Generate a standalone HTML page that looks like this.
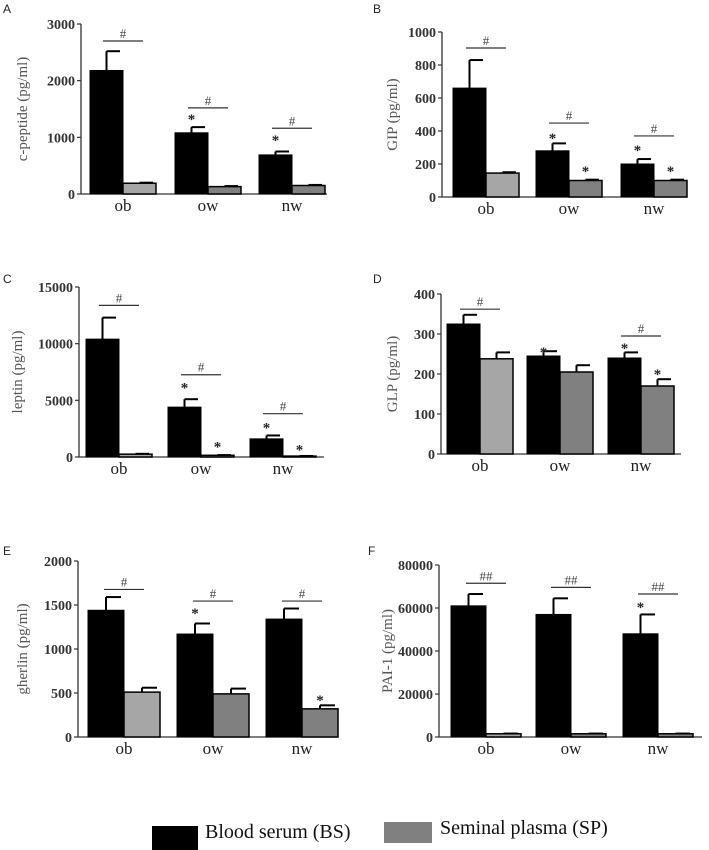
<!DOCTYPE html>
<html><head><meta charset="utf-8">
<style>
html,body{margin:0;padding:0;background:#fff;}
svg{display:block;}
.serif{font-family:"Liberation Serif","DejaVu Serif",serif;}
.lbl{font-family:"Liberation Sans",sans-serif;font-size:12px;fill:#222;}
</style></head>
<body>
<svg id="fig" width="709" height="850" viewBox="0 0 709 850" xmlns="http://www.w3.org/2000/svg">
<rect width="709" height="850" fill="#fff"/>
<g>
 <rect x="152" y="826" width="46" height="24" fill="#000"/>
 <text x="205" y="838" font-size="20" fill="#111" font-family="Liberation Serif, DejaVu Serif, serif" class="serif">Blood serum (BS)</text>
 <rect x="384" y="822" width="48" height="21" fill="#808080"/>
 <text x="440" y="834" font-size="20" fill="#111" font-family="Liberation Serif, DejaVu Serif, serif" class="serif">Seminal plasma (SP)</text>
</g>
</svg>
<script>
const categories = ["ob","ow","nw"];
// A c-peptide
const aTicks = [0,1000,2000,3000];
const aBS = [2180,1080,690]; const aBSErr = [2520,1180,750];
const aSP = [190,130,150]; const aSPErr = [200,140,160];
const aHash = [2700,1520,1160]; const aHashLbl = ["#","#","#"];
const aStarBS = [null,1360,990]; const aStarSP = [null,null,null];
// B GIP
const bTicks = [0,200,400,600,800,1000];
const bBS = [660,280,200]; const bBSErr = [830,325,230];
const bSP = [145,100,100]; const bSPErr = [150,105,105];
const bHash = [903,448,370]; const bHashLbl = ["#","#","#"];
const bStarBS = [null,370,297]; const bStarSP = [null,170,170];
// C leptin
const cTicks = [0,5000,10000,15000];
const cBS = [10400,4400,1600]; const cBSErr = [12300,5100,1900];
const cSP = [250,150,80]; const cSPErr = [280,170,90];
const cHash = [13380,7260,3820]; const cHashLbl = ["#","#","#"];
const cStarBS = [null,6290,2760]; const cStarSP = [null,1090,850];
// D GLP
const dTicks = [0,100,200,300,400];
const dBS = [325,245,240]; const dBSErr = [348,257,254];
const dSP = [238,205,170]; const dSPErr = [254,222,187];
const dHash = [362,null,295]; const dHashLbl = ["#","","#"];
const dStarBS = [null,260,270]; const dStarSP = [null,null,205];
// E ghrelin
const eTicks = [0,500,1000,1500,2000];
const eBS = [1440,1170,1340]; const eBSErr = [1590,1290,1460];
const eSP = [510,490,320]; const eSPErr = [560,550,360];
const eHash = [1677,1545,1545]; const eHashLbl = ["#","#","#"];
const eStarBS = [null,1430,null]; const eStarSP = [null,null,444];
// F PAI-1
const fTicks = [0,20000,40000,60000,80000];
const fBS = [61000,57000,48000]; const fBSErr = [66500,64500,57000];
const fSP = [1500,1500,1500]; const fSPErr = [1600,1600,1600];
const fHash = [71500,69600,66500]; const fHashLbl = ["##","##","##"];
const fStarBS = [null,null,61400]; const fStarSP = [null,null,null];

const NS="http://www.w3.org/2000/svg";
const SERIF="Liberation Serif, DejaVu Serif, serif";
const svg=document.getElementById('fig');
function mk(tag,attrs,parent){const e=document.createElementNS(NS,tag);for(const k in attrs)e.setAttribute(k,attrs[k]);(parent||svg).appendChild(e);return e;}

const panels=[
 {id:"a",letter:"A",lx:3,ly:13,title:"c-peptide (pg/ml)",tx:22,ax:81,ay0:194,ay1:24,axEnd:327,max:3000,bw:33,starts:[90,175,259],ticks:aTicks,bs:aBS,bse:aBSErr,sp:aSP,spe:aSPErr,hash:aHash,hl:aHashLbl,sb:aStarBS,ss:aStarSP,spCol:["#a6a6a6","#808080","#808080"]},
 {id:"b",letter:"B",lx:373,ly:13,title:"GIP (pg/ml)",tx:392,ax:442,ay0:197,ay1:32,axEnd:687,max:1000,bw:33,starts:[453,536,621],ticks:bTicks,bs:bBS,bse:bBSErr,sp:bSP,spe:bSPErr,hash:bHash,hl:bHashLbl,sb:bStarBS,ss:bStarSP,spCol:["#a6a6a6","#808080","#808080"]},
 {id:"c",letter:"C",lx:3,ly:283,title:"leptin (pg/ml)",tx:17,ax:79,ay0:457,ay1:287,axEnd:324,max:15000,bw:33,starts:[86,168,250],ticks:cTicks,bs:cBS,bse:cBSErr,sp:cSP,spe:cSPErr,hash:cHash,hl:cHashLbl,sb:cStarBS,ss:cStarSP,spCol:["#a6a6a6","#808080","#808080"]},
 {id:"d",letter:"D",lx:373,ly:283,title:"GLP (pg/ml)",tx:392,ax:441,ay0:454,ay1:294,axEnd:681,max:400,bw:33,starts:[447,527,608],ticks:dTicks,bs:dBS,bse:dBSErr,sp:dSP,spe:dSPErr,hash:dHash,hl:dHashLbl,sb:dStarBS,ss:dStarSP,spCol:["#a6a6a6","#808080","#808080"]},
 {id:"e",letter:"E",lx:3,ly:555,title:"gherlin (pg/ml)",tx:22,ax:78,ay0:737,ay1:561,axEnd:337,max:2000,bw:36,starts:[88,177,266],ticks:eTicks,bs:eBS,bse:eBSErr,sp:eSP,spe:eSPErr,hash:eHash,hl:eHashLbl,sb:eStarBS,ss:eStarSP,spCol:["#a6a6a6","#808080","#808080"]},
 {id:"f",letter:"F",lx:368,ly:555,title:"PAI-1 (pg/ml)",tx:387,ax:439,ay0:737,ay1:565,axEnd:702,max:80000,bw:35,starts:[451,536,623],ticks:fTicks,bs:fBS,bse:fBSErr,sp:fSP,spe:fSPErr,hash:fHash,hl:fHashLbl,sb:fStarBS,ss:fStarSP,spCol:["#a6a6a6","#808080","#808080"]}
];

panels.forEach(p=>{
 const g=mk('g',{});
 
 
 const y=v=>p.ay0-(v/p.max)*(p.ay0-p.ay1);
 const L=mk('text',{x:p.lx,y:p.ly,class:'lbl'},g);L.textContent=p.letter;
 
 
 const ya=mk('line',{x1:p.ax,y1:p.ay1,x2:p.ax,y2:p.ay0,stroke:'#333','stroke-width':1.3},g);
 
 
 const xa=mk('line',{x1:p.ax,y1:p.ay0,x2:p.axEnd,y2:p.ay0,stroke:'#333','stroke-width':1.3},g);
 
 
 p.ticks.forEach(t=>{
  mk('line',{x1:p.ax-4,y1:y(t),x2:p.ax,y2:y(t),stroke:'#333','stroke-width':1.2},g);
  const tt=mk('text',{x:p.ax-6,y:y(t)+5,'text-anchor':'end','font-size':14,'font-weight':'bold',fill:'#333','font-family':SERIF,class:'serif'},g);
  tt.textContent=t;
  
  
 });
 const cy=(p.ay0+p.ay1)/2;
 const yt=mk('text',{x:p.tx,y:cy,'text-anchor':'middle','font-size':15,fill:'#555','font-family':SERIF,class:'serif',transform:`rotate(-90 ${p.tx} ${cy})`,dy:5},g);
 yt.textContent=p.title;
 
 
 categories.forEach((c,i)=>{
  const x0=p.starts[i],bw=p.bw;
  [[p.bs[i],p.bse[i],x0],[p.sp[i],p.spe[i],x0+bw]].forEach(([v,e,xx])=>{
   const cx=xx+bw/2;
   mk('line',{x1:cx,y1:y(v),x2:cx,y2:y(e),stroke:'#000','stroke-width':2},g);
   mk('line',{x1:cx,y1:y(e),x2:cx+bw/2-3,y2:y(e),stroke:'#000','stroke-width':2},g);
  });
  const b1=mk('rect',{x:x0,y:y(p.bs[i]),width:bw,height:p.ay0-y(p.bs[i]),fill:'#000',stroke:'#000','stroke-width':1},g);
  
  
  const b2=mk('rect',{x:x0+bw,y:y(p.sp[i]),width:bw,height:p.ay0-y(p.sp[i]),fill:p.spCol[i],stroke:'#000','stroke-width':1.5},g);
  
  
  const cl=mk('text',{x:x0+bw,y:p.ay0+17,'text-anchor':'middle','font-size':17,fill:'#222','font-family':SERIF,class:'serif'},g);
  cl.textContent=c;
  
  
  if(p.hash[i]!=null){
   const hy=y(p.hash[i]);
   mk('line',{x1:x0+bw-20,y1:hy,x2:x0+bw+20,y2:hy,stroke:'#333','stroke-width':1.2},g);
   const ht=mk('text',{x:x0+bw,y:hy-3,'text-anchor':'middle','font-size':13,fill:'#444','font-family':SERIF,class:'serif'},g);
   ht.textContent=p.hl[i];
   
   
  }
  [[p.sb[i],x0],[p.ss[i],x0+bw]].forEach(([v,xx])=>{
   if(v==null)return;
   const st=mk('text',{x:xx+bw/2,y:y(v)+7,'text-anchor':'middle','font-size':15,'font-weight':'bold',fill:'#222','font-family':SERIF,class:'serif'},g);
   st.textContent='*';
   
   
  });
 });
});
</script>
</body></html>
